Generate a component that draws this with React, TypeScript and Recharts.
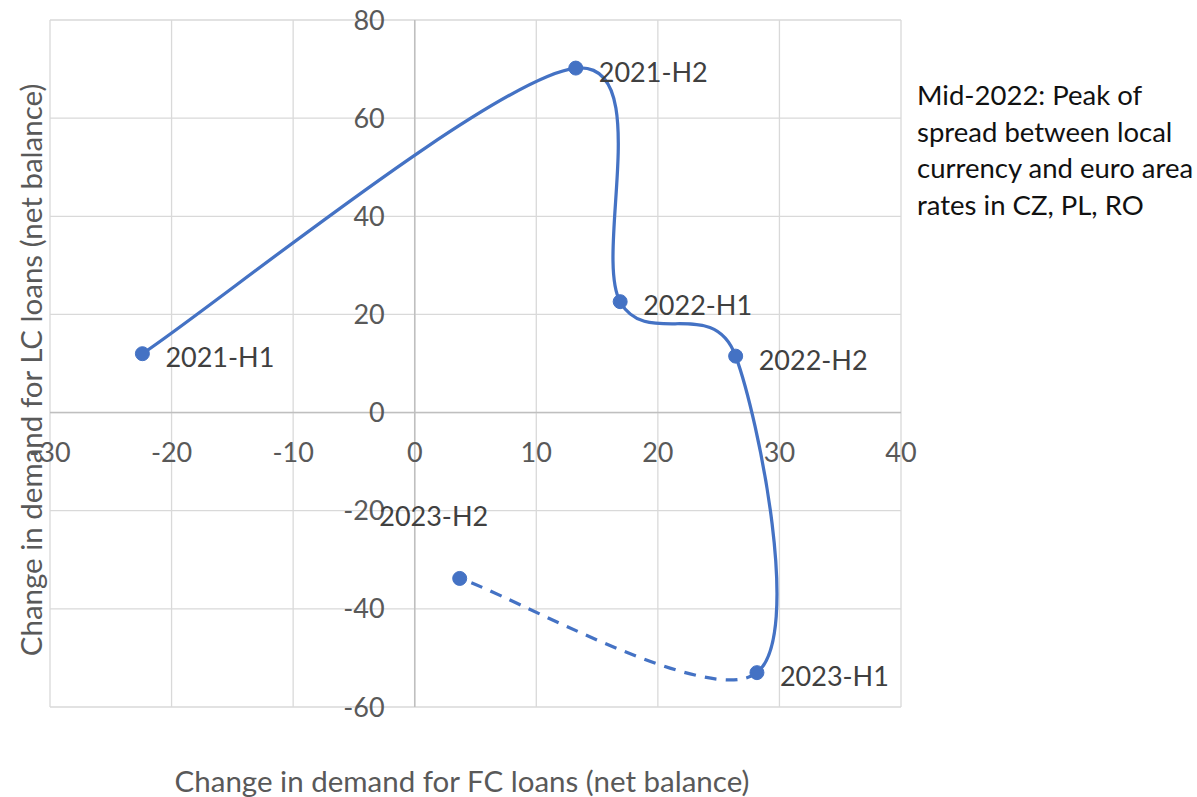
import React from 'react';
import {
  LineChart,
  Line,
  XAxis,
  YAxis,
  CartesianGrid,
  ReferenceLine,
  ReferenceDot,
  LabelList,
} from 'recharts';

// ---- data ----
const periods = ['2021-H1', '2021-H2', '2022-H1', '2022-H2', '2023-H1', '2023-H2'];
const fcDemand = [-22.4, 13.25, 16.9, 26.4, 28.15, 3.7];
const lcDemand = [12.0, 70.2, 22.6, 11.5, -53.0, -33.8];
const xTicks = [-30, -20, -10, 0, 10, 20, 30, 40];
const yTicks = [-60, -40, -20, 0, 20, 40, 60, 80];
const xTitle = 'Change in demand for FC loans (net balance)';
const yTitle = 'Change in demand for LC loans (net balance)';
const noteLines = [
  'Mid-2022: Peak of',
  'spread between local',
  'currency and euro area',
  'rates in CZ, PL, RO',
];

const data = periods.map((p, i) => ({ label: p, x: fcDemand[i], y: lcDemand[i] }));

// ---- styles ----
const W = 1197;
const H = 797;
const FONT = 'Lato, "Open Sans", sans-serif';
const BLUE = '#4472C4';
const GRID = '#d9d9d9';
const AXIS = '#bfbfbf';
const TICK_COLOR = '#595959';
const LABEL_COLOR = '#404040';
const FS = 27;

const defaultLabelStyle = { dx: 23, dy: 3, anchor: 'start' };
const labelStyles: Record<string, { dx: number; dy: number; anchor: string }> = {
  '2023-H2': { dx: -26, dy: -63, anchor: 'middle' },
};

// Excel-like smoothed curve (Catmull-Rom based Bezier), drawing only segments [from, to)
function makeSmoothCurve(from: number, to: number) {
  return function (context: any) {
    let pts: number[][] = [];
    return {
      areaStart() {},
      areaEnd() {},
      lineStart() {
        pts = [];
      },
      point(x: number, y: number) {
        pts.push([+x, +y]);
      },
      lineEnd() {
        const n = pts.length;
        if (n === 0) return;
        const s = Math.max(0, from);
        const e = Math.min(n - 1, to);
        if (e <= s) return;
        const P = (i: number) => pts[Math.max(0, Math.min(n - 1, i))];
        context.moveTo(pts[s][0], pts[s][1]);
        for (let i = s; i < e; i++) {
          const p0 = P(i - 1);
          const p1 = P(i);
          const p2 = P(i + 1);
          const p3 = P(i + 2);
          const c1x = p1[0] + (p2[0] - p0[0]) / 6;
          const c1y = p1[1] + (p2[1] - p0[1]) / 6;
          const c2x = p2[0] - (p3[0] - p1[0]) / 6;
          const c2y = p2[1] - (p3[1] - p1[1]) / 6;
          context.bezierCurveTo(c1x, c1y, c2x, c2y, p2[0], p2[1]);
        }
      },
    };
  };
}

const solidCurve = makeSmoothCurve(0, 4);
const dashedCurve = makeSmoothCurve(4, 5);

const renderPointLabel = (props: any) => {
  const { x, y, value } = props;
  const st = labelStyles[value] || defaultLabelStyle;
  return (
    <text
      x={x + st.dx}
      y={y + st.dy}
      textAnchor={st.anchor as any}
      dominantBaseline="central"
      fill={LABEL_COLOR}
      fontSize={FS}
      fontFamily={FONT}
    >
      {value}
    </text>
  );
};

export default function App() {
  return (
    <div style={{ position: 'absolute', left: 0, top: 0, width: W, height: H, background: '#fff', overflow: 'hidden' }}>
      <LineChart
        width={W}
        height={H}
        data={data}
        margin={{ top: 20, right: 296, bottom: 90, left: 50 }}
      >
        <XAxis type="number" dataKey="x" domain={[-30, 40]} ticks={xTicks} hide />
        <YAxis type="number" dataKey="y" domain={[-60, 80]} ticks={yTicks} hide />
        <CartesianGrid stroke={GRID} strokeWidth={1.3} />
        <ReferenceLine x={0} stroke={AXIS} strokeWidth={1.5} />
        <ReferenceLine y={0} stroke={AXIS} strokeWidth={1.5} />
        {xTicks.map((v) => (
          <ReferenceDot
            key={'xt' + v}
            x={v}
            y={0}
            r={0}
            fill="none"
            stroke="none"
            label={{
              value: String(v),
              position: 'bottom',
              offset: 30,
              fill: TICK_COLOR,
              fontSize: FS,
              fontFamily: FONT,
            }}
          />
        ))}
        {yTicks.map((v) => (
          <ReferenceDot
            key={'yt' + v}
            x={0}
            y={v}
            r={0}
            fill="none"
            stroke="none"
            label={{
              value: String(v),
              position: 'left',
              offset: 30,
              fill: TICK_COLOR,
              fontSize: FS,
              fontFamily: FONT,
            }}
          />
        ))}
        <Line
          dataKey="y"
          type={dashedCurve as any}
          stroke={BLUE}
          strokeWidth={3.25}
          strokeDasharray="12 9"
          dot={false}
          activeDot={false}
          isAnimationActive={false}
        />
        <Line
          dataKey="y"
          type={solidCurve as any}
          stroke={BLUE}
          strokeWidth={3.25}
          dot={{ r: 7, fill: BLUE, stroke: BLUE, strokeWidth: 1 }}
          activeDot={false}
          isAnimationActive={false}
        >
          <LabelList dataKey="label" content={renderPointLabel} />
        </Line>
      </LineChart>

      <div
        style={{
          position: 'absolute',
          left: 30,
          top: 370,
          transform: 'translate(-50%, -50%) rotate(-90deg)',
          whiteSpace: 'nowrap',
          fontFamily: FONT,
          fontSize: 29.5,
          color: TICK_COLOR,
        }}
      >
        {yTitle}
      </div>
      <div
        style={{
          position: 'absolute',
          left: 462,
          top: 780,
          transform: 'translate(-50%, -50%)',
          whiteSpace: 'nowrap',
          fontFamily: FONT,
          fontSize: 29.5,
          color: TICK_COLOR,
        }}
      >
        {xTitle}
      </div>
      <div
        style={{
          position: 'absolute',
          left: 917,
          top: 77,
          whiteSpace: 'nowrap',
          fontFamily: FONT,
          fontSize: 27.5,
          lineHeight: '36.7px',
          color: '#111',
        }}
      >
        {noteLines.map((l) => (
          <div key={l}>{l}</div>
        ))}
      </div>
    </div>
  );
}
